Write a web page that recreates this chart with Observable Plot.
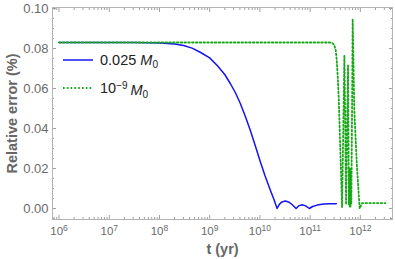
<!DOCTYPE html>
<html><head><meta charset="utf-8">
<script src="https://cdn.jsdelivr.net/npm/d3@7"></script>
<script src="https://cdn.jsdelivr.net/npm/@observablehq/plot@0.6"></script>
<style>
body{margin:0;background:#fff;}
#wrap{width:395px;height:259px;}
</style></head><body><div id="wrap"></div>
<script>
// log10(t / yr) and relative error (%) for the two series
const blueLogT = [6, 7, 7.5, 8.0, 8.3, 8.48, 8.65, 8.82, 9.0, 9.15, 9.3, 9.41, 9.51, 9.61, 9.71, 9.81, 9.9, 10.0, 10.1, 10.21, 10.28, 10.342,
  10.39, 10.44, 10.507, 10.57, 10.64, 10.72, 10.77, 10.84, 10.91, 10.985, 11.05, 11.14, 11.27, 11.4, 11.52];
const blueErr = [0.083, 0.083, 0.083, 0.0828, 0.0822, 0.0815, 0.0802, 0.078, 0.0753, 0.0715, 0.067, 0.0625, 0.058, 0.0525, 0.046, 0.039, 0.032, 0.024, 0.0165, 0.009, 0.0045, 0.0,
  0.0022, 0.0033, 0.0037, 0.0033, 0.002, 0.0, 0.0013, 0.0019, 0.0013, 0.0, 0.001, 0.0017, 0.0022, 0.0024, 0.0024];
const greenLogT = [6, 11.40, 11.44, 11.48, 11.51, 11.53, 11.55, 11.57, 11.60, 11.636, 11.66, 11.682, 11.70, 11.715, 11.735, 11.755, 11.765, 11.772,
  11.78, 11.788, 11.796, 11.804, 11.812, 11.82, 11.835, 11.847, 11.88, 11.93, 11.986, 12.034, 12.498];
const greenErr = [0.083, 0.083, 0.0828, 0.0818, 0.079, 0.074, 0.066, 0.055, 0.03, 0.0005, 0.04, 0.0765, 0.04, 0.002, 0.04, 0.0715, 0.03, 0.002,
  0.02, 0.001, 0.018, 0.001, 0.02, 0.002, 0.05, 0.0948, 0.049, 0.022, 0.0, 0.0027, 0.0027];
const seriesNames = ["0.025", "10^-9"];
const xTickExp = [6, 7, 8, 9, 10, 11, 12];
const yTicks = [0, 0.02, 0.04, 0.06, 0.08, 0.10];
const xLabel = "t (yr)";
const yLabel = "Relative error (%)";

const blue = blueLogT.map((l, i) => ({t: 10 ** l, e: blueErr[i]}));
const green = greenLogT.map((l, i) => ({t: 10 ** l, e: greenErr[i]}));
const xMajor = xTickExp.map(e => 10 ** e);
const xMinor = [];
for (let n = 5; n <= 12; n++) for (let k = 2; k <= 9; k++) { const v = k * 10 ** n; if (v > 10 ** 5.87 && v < 10 ** 12.64) xMinor.push(v); }
const yMinor = d3.range(-0.005, 0.1001, 0.005).filter(v => !yTicks.some(t => Math.abs(t - v) < 1e-9));

const frameCol = "#b4b4b4";
const tickCol = "#a0a0a0";
const textCol = "#6a6a6a";

const chart = Plot.plot({
  width: 395, height: 259,
  marginLeft: 52, marginRight: 3, marginTop: 7, marginBottom: 40,
  style: {fontFamily: "'Liberation Sans', Arial, sans-serif", fontSize: "13px", color: textCol, background: "#fff"},
  x: {type: "log", domain: [10 ** 5.87, 10 ** 12.64]},
  y: {domain: [-0.0055, 0.1005]},
  marks: [
    Plot.axisX(xMajor, {anchor: "bottom", tickSize: 0, tickPadding: 7, tickFormat: d => "10^" + Math.round(Math.log10(d)), label: xLabel, labelAnchor: "center", labelOffset: 34, labelArrow: "none"}),
    Plot.axisX(xMajor, {anchor: "bottom", tickSize: -4, tickFormat: () => "", label: null, stroke: tickCol}),
    Plot.axisX(xMinor, {anchor: "bottom", tickSize: -2, tickFormat: () => "", label: null, stroke: tickCol}),
    Plot.axisX(xMajor, {anchor: "top", tickSize: -4, tickFormat: () => "", label: null, stroke: tickCol}),
    Plot.axisX(xMinor, {anchor: "top", tickSize: -2, tickFormat: () => "", label: null, stroke: tickCol}),
    Plot.axisY(yTicks, {anchor: "left", tickSize: 0, tickPadding: 4, tickFormat: d3.format(".2f"), label: yLabel, labelAnchor: "center", labelOffset: 46, labelArrow: "none"}),
    Plot.axisY(yTicks, {anchor: "left", tickSize: -4, tickFormat: () => "", label: null, stroke: tickCol}),
    Plot.axisY(yMinor, {anchor: "left", tickSize: -2, tickFormat: () => "", label: null, stroke: tickCol}),
    Plot.axisY(yTicks, {anchor: "right", tickSize: -4, tickFormat: () => "", label: null, stroke: tickCol}),
    Plot.axisY(yMinor, {anchor: "right", tickSize: -2, tickFormat: () => "", label: null, stroke: tickCol}),
    Plot.frame({stroke: frameCol}),
    Plot.line(blue, {x: "t", y: "e", stroke: "#1414f5", strokeWidth: 1.5}),
    Plot.line(green, {x: "t", y: "e", stroke: "#16a816", strokeWidth: 1.8, strokeDasharray: "1.6,2.2"})
  ]
});

const ns = "http://www.w3.org/2000/svg";
chart.querySelectorAll('g[aria-label="x-axis tick label"] text').forEach(t => {
  const m = t.textContent.match(/^10\^(-?\d+)$/);
  if (m) {
    t.textContent = "10";
    t.setAttribute("font-size", "11.5");
    const ts = document.createElementNS(ns, "tspan");
    ts.setAttribute("dy", "-0.45em");
    ts.setAttribute("font-size", "8.5");
    ts.textContent = m[1];
    t.appendChild(ts);
  }
});
chart.querySelectorAll('g[aria-label="x-axis label"] text, g[aria-label="y-axis label"] text').forEach(t => {
  t.textContent = t.textContent.replace(/[\u2190-\u2193]/g, "").trim();
  t.setAttribute("font-weight", "bold");
  t.setAttribute("font-size", "14.5");
  t.setAttribute("fill", "#666");
});

// legend inside the plot area
const svg = d3.select(chart);
const leg = svg.append("g").attr("font-family", "'Liberation Sans', Arial, sans-serif").attr("font-size", 14.5)
  .attr("fill", "#222").attr("text-anchor", "start");
const items = [
  {y: 60, stroke: "#1414f5", dash: null, w: 1.5, name: seriesNames[0]},
  {y: 88, stroke: "#16a816", dash: "1.6,2.2", w: 1.8, name: seriesNames[1]}
];
items.forEach(it => {
  leg.append("line").attr("x1", 63).attr("x2", 93).attr("y1", it.y).attr("y2", it.y)
    .attr("stroke", it.stroke).attr("stroke-width", it.w).attr("stroke-dasharray", it.dash);
  const tx = leg.append("text").attr("x", 100).attr("y", it.y + 5);
  const m = it.name.match(/^10\^(-?\d+)$/);
  if (m) {
    tx.append("tspan").text("10");
    tx.append("tspan").attr("dy", "-0.45em").attr("font-size", 10).text(m[1].replace("-", "\u2212"));
    tx.append("tspan").attr("dy", "0.45em").text("\u2009");
  } else {
    tx.append("tspan").text(it.name + " ");
  }
  tx.append("tspan").attr("font-style", "italic").text("M");
  tx.append("tspan").attr("dy", "0.3em").attr("font-size", 10).text("0");
});

document.getElementById("wrap").appendChild(chart);
</script>
</body></html>
